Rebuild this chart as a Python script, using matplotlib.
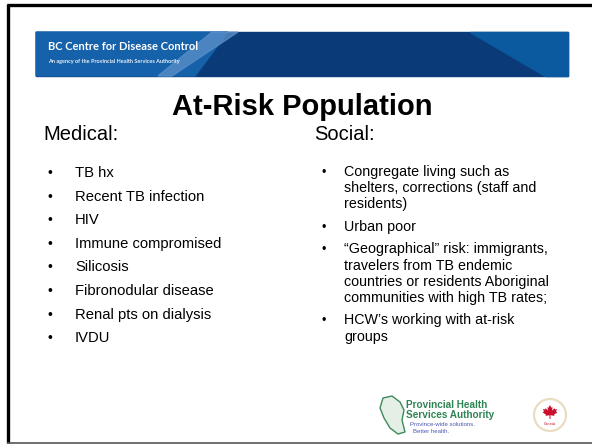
import numpy as np
import matplotlib
matplotlib.use("Agg")
from matplotlib import pyplot as plt
from matplotlib.patches import Rectangle, Polygon, Circle

plt.rcParams['font.family'] = ['Liberation Sans', 'DejaVu Sans']

# slide content
title = "At-Risk Population"
banner_title = "BC Centre for Disease Control"
banner_sub = "An agency of the Provincial Health Services Authority"
medical_head = "Medical:"
medical_items = ["TB hx", "Recent TB infection", "HIV", "Immune compromised",
                 "Silicosis", "Fibronodular disease", "Renal pts on dialysis", "IVDU"]
social_head = "Social:"
social_items = [["Congregate living such as", "shelters, corrections (staff and", "residents)"],
                ["Urban poor"],
                ["\u201cGeographical\u201d risk: immigrants,", "travelers from TB endemic",
                 "countries or residents Aboriginal", "communities with high TB rates;"],
                ["HCW\u2019s working with at-risk", "groups"]]
phsa_lines = ["Provincial Health", "Services Authority"]
phsa_tag = ["Province-wide solutions.", "Better health."]

# rough outline of the maple leaf (unit size, y up)
leaf_x = [0, 0.18, 0.32, 0.26, 0.55, 0.62, 0.88, 0.76, 0.92, 0.5, 0.56, 0.06, 0.06,
          -0.06, -0.06, -0.56, -0.5, -0.92, -0.76, -0.88, -0.62, -0.55, -0.26, -0.32, -0.18]
leaf_y = [1.0, 0.66, 0.74, 0.3, 0.6, 0.44, 0.5, 0.18, 0.08, -0.22, -0.36, -0.28, -0.75,
          -0.75, -0.28, -0.36, -0.22, 0.08, 0.18, 0.5, 0.44, 0.6, 0.3, 0.74, 0.66]

W, H = 592, 445
fig = plt.figure(figsize=(W / 100, H / 100), dpi=100)
ax = fig.add_axes([0, 0, 1, 1])
ax.set_xlim(0, W)
ax.set_ylim(H, 0)
ax.axis('off')

# slide frame
ax.add_patch(Rectangle((0, 0), W, H, color='white', zorder=0))
ax.plot([8, 8], [4, 443], color='black', lw=2.4, solid_capstyle='butt')
ax.plot([7, W], [4.5, 4.5], color='black', lw=2.4, solid_capstyle='butt')
ax.plot([7, W], [443, 443], color='#555555', lw=1.2, solid_capstyle='butt')

# banner
bx0, bx1, by0, by1 = 36, 568, 32, 76
ax.add_patch(Rectangle((bx0, by0), bx1 - bx0, by1 - by0, color='#0a3a78', zorder=1))
ax.add_patch(Polygon([(bx0, by0), (228, by0), (195, by1), (bx0, by1)],
                     color='#1561aa', zorder=1.1))
ax.add_patch(Polygon([(212, by0), (238, by0), (172, by1), (158, by1)],
                     color='#5d91c9', alpha=0.75, zorder=1.2))
ax.add_patch(Polygon([(470, by0), (bx1, by0), (bx1, by1), (545, by1)],
                     color='#0b5aa0', zorder=1.1))
ax.text(48, 47, banner_title, color='white', fontsize=8.0, fontweight='bold',
        family=['Lato', 'DejaVu Sans'], va='center', ha='left', zorder=2)
ax.text(48, 61, banner_sub, color='white', fontsize=4.0, fontweight='bold',
        family=['Lato', 'DejaVu Sans'], va='center', ha='left', zorder=2, alpha=0.9)

# title
ax.text(302, 115, title, fontsize=21, fontweight='bold', ha='center',
        va='baseline', color='black')

# medical column
ax.text(43, 140, medical_head, fontsize=14.5, ha='left', va='baseline')
y = 177
for item in medical_items:
    ax.text(47, y, "\u2022", fontsize=10, ha='left', va='baseline')
    ax.text(75, y, item, fontsize=10.6, ha='left', va='baseline')
    y += 23.6

# social column
ax.text(314, 140, social_head, fontsize=14.5, ha='left', va='baseline')
y = 176
for item in social_items:
    ax.text(321, y, "\u2022", fontsize=9, ha='left', va='baseline')
    for line in item:
        ax.text(344, y, line, fontsize=10.3, ha='left', va='baseline')
        y += 16.2
    y += 6.3

# PHSA logo
bc_map = [(383, 398), (392, 396), (400, 402), (404, 410), (402, 420),
          (405, 432), (398, 434), (390, 428), (384, 418), (380, 408)]
ax.add_patch(Polygon(bc_map, closed=True, facecolor='#e4efe6', edgecolor='#3d8a5a', lw=1))
ax.text(406, 408, phsa_lines[0], fontsize=7.2, fontweight='bold', color='#2f8455',
        ha='left', va='baseline')
ax.text(406, 418, phsa_lines[1], fontsize=7.2, fontweight='bold', color='#2f8455',
        ha='left', va='baseline')
ax.text(410, 426, phsa_tag[0], fontsize=4.3, color='#4b57b0', ha='left', va='baseline')
ax.text(413, 433, phsa_tag[1], fontsize=4.3, color='#4b57b0', ha='left', va='baseline')

# Canada emblem
ax.add_patch(Circle((550, 415), 16, facecolor='white', edgecolor='#eadcc0', lw=1.6))
leaf = np.column_stack([550 + 8 * np.array(leaf_x), 413 - 8 * np.array(leaf_y)])
ax.add_patch(Polygon(leaf, closed=True, color='#c8102e', lw=0))
ax.text(550, 424, "Canada", fontsize=2.5, color='#c8102e', ha='center', va='center')

fig.savefig("out.png", dpi=100)
